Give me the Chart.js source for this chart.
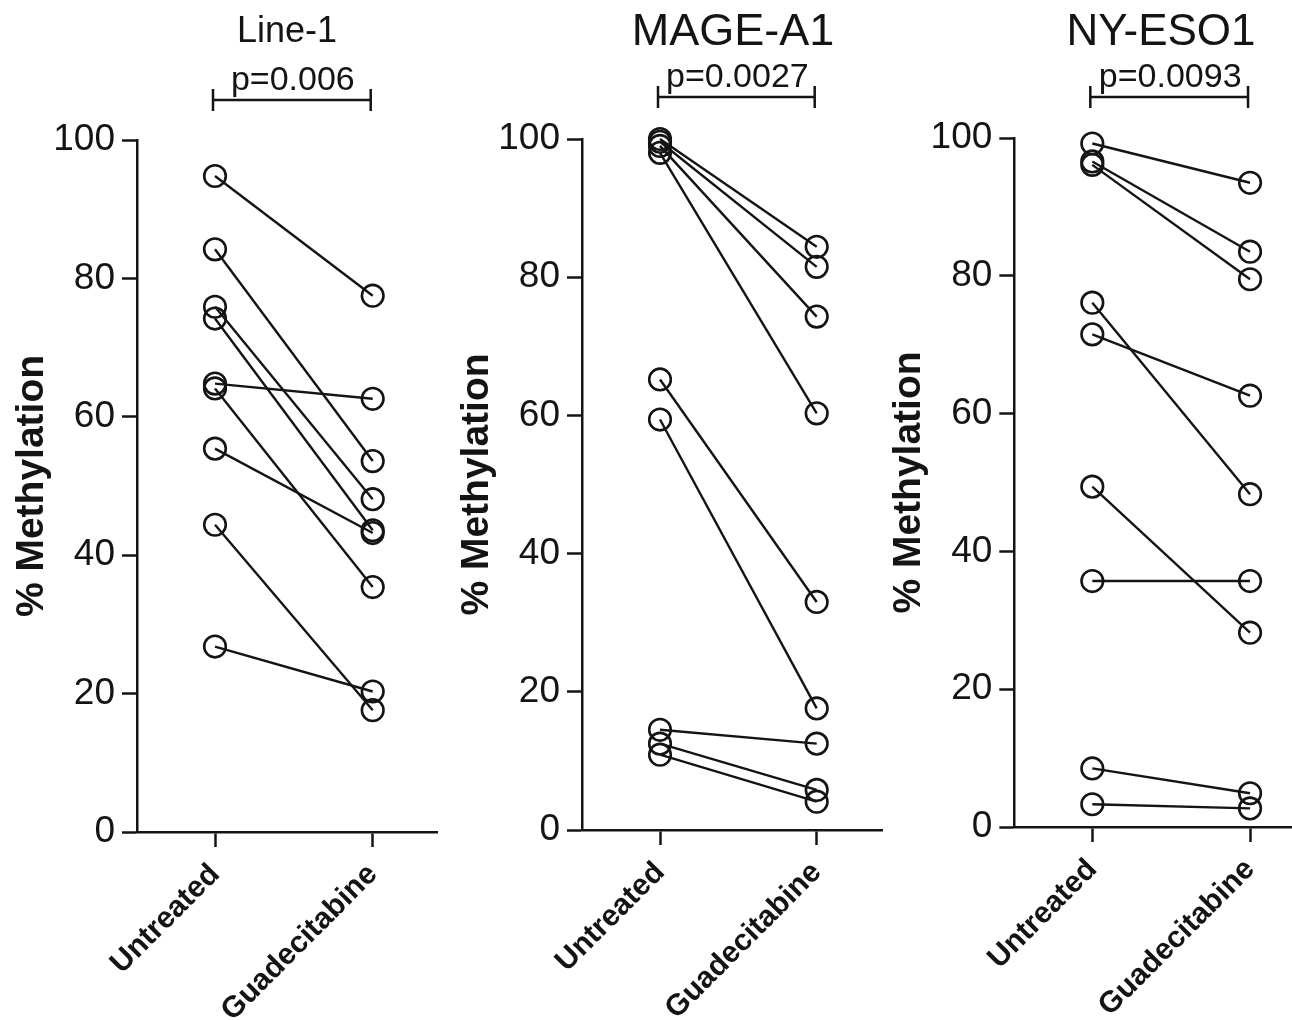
<!DOCTYPE html>
<html><head><meta charset="utf-8">
<script src="https://cdn.jsdelivr.net/npm/chart.js@4.4.1/dist/chart.umd.min.js"></script>
<style>
html,body{margin:0;padding:0;background:#fff;}
body{width:1292px;height:1020px;position:relative;overflow:hidden;}
canvas{position:absolute;top:0;}
</style></head><body>
<canvas id="c1" width="445" height="1020" style="left:0px"></canvas>
<canvas id="c2" width="445" height="1020" style="left:445px"></canvas>
<canvas id="c3" width="415" height="1020" style="left:877px"></canvas>
<script>
// ---- data ----
const categories = ['Untreated', 'Guadecitabine'];
const yTickStep = 20;
const titles = ['Line-1', 'MAGE-A1', 'NY-ESO1'];
const pValues = ['p=0.006', 'p=0.0027', 'p=0.0093'];
const yAxisTitle = '% Methylation';

const line1Untreated     = [94.8, 84.2, 75.9, 74.2, 64.8, 64.1, 55.4, 44.4, 26.8];
const line1Guadecitabine = [77.5, 53.6, 48.1, 43.6, 62.6, 35.4, 43.2, 17.6, 20.3];

const mageUntreated      = [100.0, 99.6, 99.0, 98.0, 65.2, 59.4, 14.5, 12.5, 10.9];
const mageGuadecitabine  = [84.4, 81.5, 74.3, 60.3, 33.0, 17.6, 12.5, 5.8, 4.1];

const nyesoUntreated     = [99.2, 96.6, 96.1, 76.1, 71.5, 49.4, 35.7, 8.5, 3.3];
const nyesoGuadecitabine = [93.5, 83.5, 79.5, 48.3, 62.6, 28.2, 35.7, 4.9, 2.7];

// ---- styling / layout ----
const INK = '#141414';
const FONT = "'Liberation Sans', Arial, Helvetica, sans-serif";
Chart.defaults.font.family = FONT;
Chart.defaults.color = INK;

const bracketPlugin = {
  id: 'pBracket',
  afterDraw(chart, args, o) {
    const ctx = chart.ctx;
    const xs = chart.scales.x;
    const x0 = xs.getPixelForValue(0) + o.dx0;
    const x1 = xs.getPixelForValue(1) + o.dx1;
    ctx.save();
    ctx.strokeStyle = INK;
    ctx.lineWidth = 2.5;
    ctx.beginPath();
    ctx.moveTo(x0, o.y); ctx.lineTo(x1, o.y);
    ctx.moveTo(x0, o.y - o.cap); ctx.lineTo(x0, o.y + o.cap);
    ctx.moveTo(x1, o.y - o.cap); ctx.lineTo(x1, o.y + o.cap);
    ctx.stroke();
    ctx.fillStyle = INK;
    ctx.font = o.size + 'px ' + FONT;
    ctx.textAlign = 'center';
    ctx.textBaseline = 'alphabetic';
    ctx.fillText(o.text, (x0 + x1) / 2 + o.tdx, o.y - o.gap);
    ctx.restore();
  }
};

const titleShiftPlugin = {
  id: 'titleShift',
  afterLayout(chart, args, o) {
    const tb = chart.titleBlock;
    if (!tb) return;
    const w = 320;
    tb.left = o.center - w / 2;
    tb.right = o.center + w / 2;
    tb.width = w;
  }
};

function makePanel(id, untreated, treated, cfg) {
  const datasets = untreated.map((u, i) => ({
    data: [{x: 0, y: u}, {x: 1, y: treated[i]}],
    borderColor: INK,
    borderWidth: 2.4,
    pointRadius: 10.8,
    pointHoverRadius: 10.8,
    pointBorderWidth: 2.6,
    pointBorderColor: INK,
    pointBackgroundColor: 'rgba(0,0,0,0)',
    fill: false,
    tension: 0,
    clip: false
  }));
  return new Chart(document.getElementById(id), {
    type: 'line',
    data: { datasets },
    options: {
      responsive: false,
      animation: false,
      devicePixelRatio: 1,
      layout: { autoPadding: false, padding: { left: 0, right: cfg.padRight, top: 0, bottom: 0 } },
      plugins: {
        legend: { display: false },
        tooltip: { enabled: false },
        title: {
          display: true, text: cfg.title, color: INK,
          font: { size: cfg.titleSize, weight: 'normal', lineHeight: 1.2 },
          padding: { top: cfg.titlePadTop, bottom: cfg.titlePadBottom }
        },
        titleShift: { center: cfg.titleCenter },
        pBracket: { text: cfg.p, y: cfg.bracketY, cap: 11, gap: 10, size: 34, dx0: -2, dx1: -2, tdx: 1 }
      },
      scales: {
        x: {
          type: 'linear',
          min: cfg.xmin, max: cfg.xmax,
          afterBuildTicks: s => { s.ticks = categories.map((c, i) => ({ value: i })); },
          afterFit: s => { s.height = cfg.xHeight; s.paddingLeft = 0; s.paddingRight = 0; },
          ticks: {
            autoSkip: false, minRotation: 45, maxRotation: 45, padding: 10,
            color: INK, font: { size: 30, weight: 'bold' },
            callback: v => categories[v]
          },
          grid: { drawOnChartArea: false, drawTicks: true, tickLength: 15, tickWidth: 2.5, tickColor: INK },
          border: { display: true, color: INK, width: 2.5 }
        },
        y: {
          min: 0, max: 100,
          afterFit: s => { s.width = cfg.yWidth; },
          ticks: { stepSize: yTickStep, padding: 7, color: INK, font: { size: 37 } },
          grid: { drawOnChartArea: false, drawTicks: true, tickLength: 15, tickWidth: 2.5, tickColor: INK },
          border: { display: true, color: INK, width: 2.5 },
          title: { display: true, text: yAxisTitle, color: INK, font: { size: 39, weight: 'bold' }, padding: { top: 9, bottom: 0 } }
        }
      }
    },
    plugins: [bracketPlugin, titleShiftPlugin]
  });
}

makePanel('c1', line1Untreated, line1Guadecitabine, {
  title: titles[0], titleSize: 36, titlePadTop: 10, titlePadBottom: 86.8, titleCenter: 287,
  p: pValues[0], bracketY: 100, padRight: 8, yWidth: 137, xHeight: 188,
  xmin: -0.4946, xmax: 1.4077
});
makePanel('c2', mageUntreated, mageGuadecitabine, {
  title: titles[1], titleSize: 45, titlePadTop: 6, titlePadBottom: 79, titleCenter: 288,
  p: pValues[1], bracketY: 97, padRight: 8, yWidth: 137, xHeight: 190,
  xmin: -0.4978, xmax: 1.4167
});
makePanel('c3', nyesoUntreated, nyesoGuadecitabine, {
  title: titles[2], titleSize: 44, titlePadTop: 6, titlePadBottom: 79.2, titleCenter: 284,
  p: pValues[2], bracketY: 97, padRight: 0, yWidth: 137.3, xHeight: 193,
  xmin: -0.4946, xmax: 1.266
});
</script>
</body></html>
